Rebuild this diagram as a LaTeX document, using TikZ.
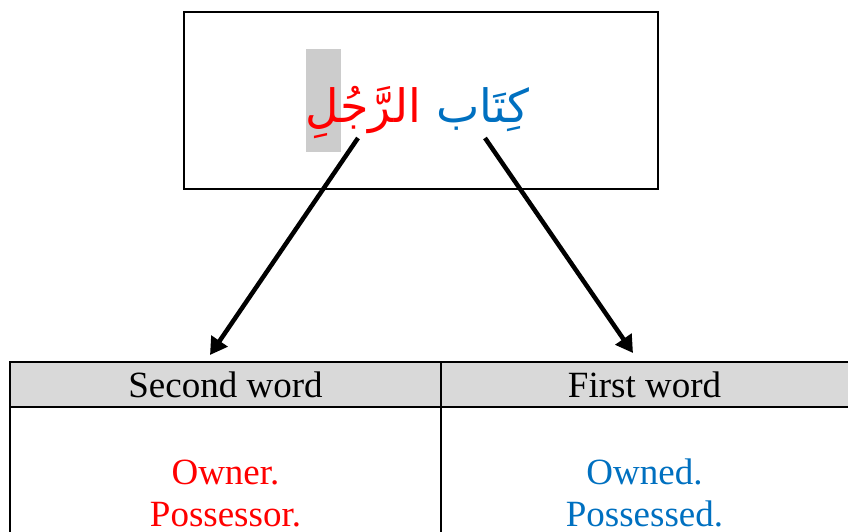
\documentclass[tikz,border=0pt]{standalone}
\usepackage{fontspec}
\setmainfont{Liberation Serif}
\newfontfamily\arabicfont[Script=Arabic]{DejaVu Sans}
\TeXXeTstate=1
\usetikzlibrary{arrows.meta}

\definecolor{ownedblue}{RGB}{0,112,192}
\definecolor{headgray}{RGB}{217,217,217}
\definecolor{markgray}{RGB}{204,204,204}

\begin{document}
\begin{tikzpicture}[x=1pt,y=-1pt]
\useasboundingbox (0,0) rectangle (848,532);
\begin{scope}[every node/.style={inner sep = 0pt, font=\fontsize{37}{42}\selectfont}]

    % highlighted last letter
    \fill [markgray] (306,49) rectangle (341,152);

    \node [draw, line width = 2pt, minimum width = 474, minimum height = 176] (box) at (421,100.5) {};
    \node [red, anchor=base east, font=\fontsize{46}{52}\arabicfont] (rajul) at (421,122)
        {\beginR الرَّجُلِ\endR};
    \node [ownedblue, anchor=base west, font=\fontsize{46}{52}\arabicfont] (kitab) at (436,122)
        {\beginR كِتَاب\endR};

    % table
    \fill [headgray] (10,362) rectangle (848,407);
    \draw [line width = 2pt] (10,540) -- (10,362) -- (850,362);
    \draw [line width = 2pt] (10,407) -- (850,407);
    \draw [line width = 2pt] (441,362) -- (441,540);

    \node (second) at (225.5,384.5) {Second word};
    \node (first) at (644.5,384.5) {First word};
    \node [red, align=center, anchor=base] (owner) at (225.5,526) {Owner.\\Possessor.};
    \node [ownedblue, align=center, anchor=base] (owned) at (644.5,526) {Owned.\\Possessed.};

    \coordinate (from2) at (358,138);
    \coordinate (from1) at (485,138);
    \coordinate (to2) at (210,355);
    \coordinate (to1) at (633,353);

    \draw [line width = 4.5pt, -{Triangle[length=17pt,width=19pt]}] (from2) -- (to2);
    \draw [line width = 4.5pt, -{Triangle[length=17pt,width=19pt]}] (from1) -- (to1);

\end{scope}
\end{tikzpicture}
\end{document}
